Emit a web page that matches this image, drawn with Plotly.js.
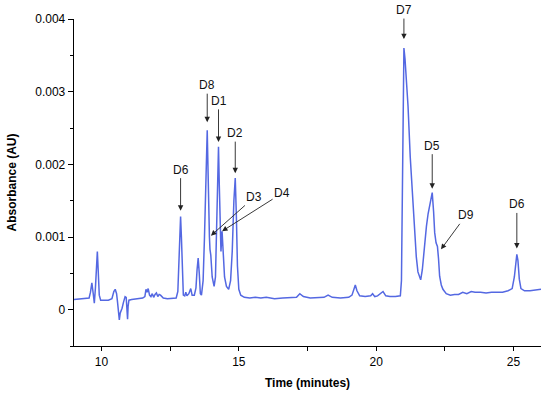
<!DOCTYPE html>
<html>
<head>
<meta charset="utf-8">
<script src="https://cdn.plot.ly/plotly-3.0.1.min.js"></script>
<style>html,body{margin:0;padding:0;background:#fff;}#chart{width:550px;height:394px;}</style>
</head>
<body>
<div id="chart"></div>
<script>
// Retention time (minutes)
const timeMin = [
  9.00, 9.20, 9.40, 9.55, 9.60, 9.65, 9.70, 9.74, 9.78, 9.82, 9.85, 9.88, 9.92, 9.97,
  10.10, 10.25, 10.38, 10.45, 10.50, 10.55, 10.58, 10.62, 10.65, 10.68, 10.75, 10.80, 10.86, 10.90, 10.93, 10.95, 10.97,
  11.00, 11.10, 11.30, 11.50, 11.58, 11.62, 11.66, 11.70, 11.75, 11.80, 11.85, 11.90, 11.95,
  12.00, 12.05, 12.10, 12.15, 12.25, 12.40, 12.60, 12.72, 12.78, 12.82, 12.86, 12.88, 12.91, 12.94, 12.98,
  13.03, 13.07, 13.11, 13.18, 13.25, 13.30, 13.38, 13.44, 13.48, 13.52, 13.56, 13.60, 13.64, 13.70, 13.75, 13.80, 13.85, 13.88, 13.91, 13.93, 13.95, 13.98,
  14.03, 14.10, 14.15, 14.19, 14.23, 14.26, 14.29, 14.33, 14.35, 14.39, 14.42, 14.48, 14.55, 14.63, 14.70, 14.76, 14.82, 14.87, 14.91, 14.95,
  15.00, 15.07, 15.20, 15.40, 15.60, 15.80, 16.00, 16.30, 16.60, 16.90,
  17.10, 17.22, 17.35, 17.60, 17.90, 18.10, 18.25, 18.40, 18.70,
  19.00, 19.12, 19.20, 19.24, 19.30, 19.40, 19.60, 19.80, 19.87, 19.95,
  20.05, 20.20, 20.25, 20.35, 20.50, 20.70, 20.88, 20.92, 20.95, 20.97, 20.99,
  21.01, 21.05, 21.10, 21.16, 21.24, 21.34, 21.40, 21.46, 21.52, 21.58, 21.62, 21.68, 21.76, 21.83, 21.89, 21.95,
  22.00, 22.04, 22.09, 22.13, 22.18, 22.23, 22.27, 22.31, 22.37, 22.43, 22.55, 22.70, 22.85,
  23.00, 23.15, 23.30, 23.46, 23.60, 23.80, 24.00, 24.20, 24.40, 24.60, 24.80, 24.95,
  25.03, 25.08, 25.12, 25.16, 25.21, 25.27, 25.40, 25.60, 25.80, 26.00
];
// Absorbance (AU)
const absorbance = [
  0.00014, 0.00015, 0.00015, 0.00016, 0.00024, 0.00037, 0.00022, 0.00009, 0.00030, 0.00065, 0.00080, 0.00055, 0.00020, 0.00013,
  0.00013, 0.00013, 0.00015, 0.00025, 0.00028, 0.00022, 0.00012, -0.00002, -0.00014, -0.00005, 0.00002, 0.00010, 0.00018, 0.00017, 0.00005, -0.00013, 0.00005,
  0.00013, 0.00014, 0.00015, 0.00016, 0.00018, 0.00028, 0.00024, 0.00029, 0.00020, 0.00018, 0.00022, 0.00017, 0.00021,
  0.00023, 0.00018, 0.00021, 0.00020, 0.00016, 0.00015, 0.00015, 0.00016, 0.00025, 0.00060, 0.00115, 0.00128, 0.00100, 0.00045, 0.00020,
  0.00019, 0.00024, 0.00019, 0.00022, 0.00029, 0.00020, 0.00020, 0.00030, 0.00055, 0.00071, 0.00050, 0.00022, 0.00020, 0.00040, 0.00100, 0.00200, 0.00247, 0.00190, 0.00110, 0.00100, 0.00083, 0.00075,
  0.00045, 0.00032, 0.00045, 0.00100, 0.00190, 0.00224, 0.00170, 0.00090, 0.00080, 0.00108, 0.00085, 0.00045, 0.00032, 0.00028, 0.00040, 0.00080, 0.00150, 0.00181, 0.00130, 0.00060,
  0.00028, 0.00020, 0.00017, 0.00016, 0.00017, 0.00016, 0.00017, 0.00015, 0.00016, 0.00016,
  0.00017, 0.00022, 0.00018, 0.00016, 0.00017, 0.00017, 0.00020, 0.00017, 0.00016,
  0.00017, 0.00020, 0.00030, 0.00034, 0.00026, 0.00019, 0.00018, 0.00019, 0.00022, 0.00018,
  0.00019, 0.00024, 0.00025, 0.00019, 0.00018, 0.00018, 0.00019, 0.00040, 0.00150, 0.00260, 0.00345,
  0.00360, 0.00345, 0.00315, 0.00280, 0.00210, 0.00143, 0.00105, 0.00073, 0.00052, 0.00043, 0.00041, 0.00055, 0.00090, 0.00115, 0.00132, 0.00145,
  0.00155, 0.00161, 0.00135, 0.00106, 0.00092, 0.00087, 0.00070, 0.00046, 0.00034, 0.00028, 0.00022, 0.00020, 0.00021,
  0.00021, 0.00024, 0.00022, 0.00025, 0.00024, 0.00024, 0.00023, 0.00024, 0.00024, 0.00024, 0.00026, 0.00029,
  0.00045, 0.00068, 0.00076, 0.00068, 0.00042, 0.00029, 0.00026, 0.00026, 0.00027, 0.00028
];

// Peak labels
const peakLabels = ["D6", "D8", "D1", "D2", "D3", "D4", "D7", "D5", "D9", "D6"];
const peakTime   = [12.88, 13.85, 14.26, 14.87, 13.93, 14.39, 21.01, 22.04, 22.36, 25.12];
const peakAbs    = [0.00128, 0.00247, 0.00224, 0.00181, 0.00100, 0.00108, 0.00360, 0.00161, 0.00083, 0.00076];
const labelDx    = [0, 0, 0, 0, 45, 60, 0, 0, 25, 0];
const labelDy    = [-47, -45, -46, -45, -40, -38, -38, -47, -34, -50];
const arrowGap   = [6, 8, 5, 5, 2, 0, 9, 4, 0, 6];

const xTicks = [10, 15, 20, 25];
const yTicks = [0, 0.001, 0.002, 0.003, 0.004];
const yTickText = ["0", "0.001", "0.002", "0.003", "0.004"];

const FONT = "Liberation Sans, Arial, Helvetica, sans-serif";

const trace = {
  x: timeMin,
  y: absorbance,
  type: "scatter",
  mode: "lines",
  line: {color: "#5468E2", width: 1.5},
  hoverinfo: "skip"
};

const annotations = peakLabels.map((t, i) => ({
  x: peakTime[i], y: peakAbs[i], xref: "x", yref: "y",
  text: t, showarrow: true,
  ax: labelDx[i], ay: labelDy[i],
  arrowhead: 2, arrowsize: 1.2, arrowwidth: 0.9, arrowcolor: "#222",
  standoff: arrowGap[i],
  font: {family: FONT, size: 12, color: "#111"}
}));

const layout = {
  width: 550, height: 394,
  margin: {l: 74, r: 9, t: 19, b: 48},
  paper_bgcolor: "#fff", plot_bgcolor: "#fff",
  showlegend: false,
  font: {family: FONT, size: 12, color: "#000"},
  xaxis: {
    range: [9, 26],
    tickvals: xTicks,
    ticks: "outside", ticklen: 4, tickwidth: 1, tickcolor: "#000",
    minor: {dtick: 2.5, tick0: 0, ticks: "outside", ticklen: 4, tickcolor: "#000", showgrid: false},
    showline: true, linecolor: "#000", linewidth: 1.3,
    showgrid: false, zeroline: false,
    title: {text: "<b>Time (minutes)</b>", font: {family: FONT, size: 12, color: "#000"}, standoff: 11}
  },
  yaxis: {
    range: [-0.0005, 0.004],
    tickvals: yTicks, ticktext: yTickText,
    ticks: "outside", ticklen: 5, tickwidth: 1, tickcolor: "#000",
    minor: {dtick: 0.0005, tick0: 0, ticks: "outside", ticklen: 3, tickcolor: "#000", showgrid: false},
    showline: true, linecolor: "#000", linewidth: 1.3,
    showgrid: false, zeroline: false,
    title: {text: "<b>Absorbance (AU)</b>", font: {family: FONT, size: 12, color: "#000"}, standoff: 16}
  },
  annotations: annotations
};

Plotly.newPlot("chart", [trace], layout, {displayModeBar: false, staticPlot: true});
</script>
</body>
</html>
